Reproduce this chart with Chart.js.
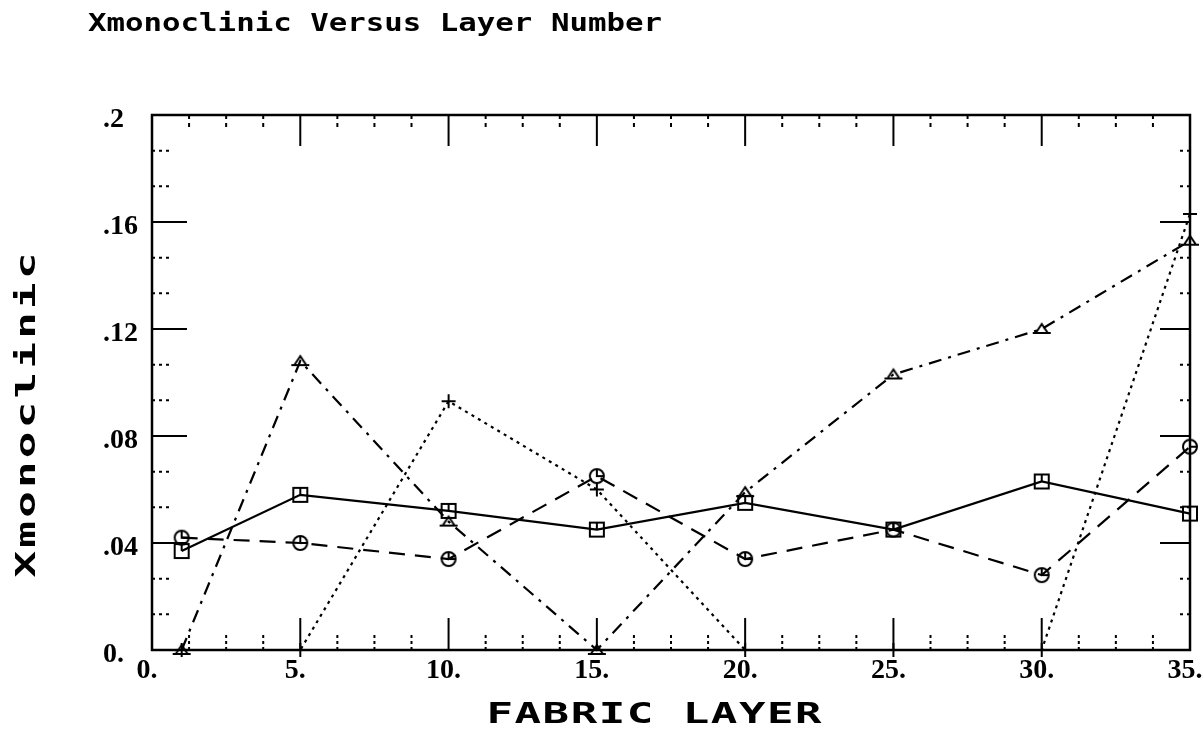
<!DOCTYPE html>
<html>
<head>
<meta charset="utf-8">
<title>Xmonoclinic Versus Layer Number</title>
<script src="https://cdn.jsdelivr.net/npm/chart.js@4.4.1/dist/chart.umd.min.js"></script>
<style>
  html, body { margin: 0; padding: 0; background: #fff; }
  #wrap { width: 1204px; height: 755px; }
</style>
</head>
<body>
<div id="wrap"><canvas id="chart" width="1204" height="755"></canvas></div>
<script>
// fabric layers sampled
const layers = [1, 5, 10, 15, 20, 25, 30, 35];

// Xmonoclinic per layer, one array per curve
const squareSeries   = [0.037, 0.058, 0.052, 0.045, 0.055, 0.045, 0.063, 0.051];
const circleSeries   = [0.042, 0.040, 0.034, 0.065, 0.034, 0.045, 0.028, 0.076];
const triangleSeries = [0.000, 0.108, 0.048, 0.000, 0.059, 0.103, 0.120, 0.153];
const plusSeries     = [0.000, 0.000, 0.093, 0.060, 0.000, 0.000, 0.000, 0.163];

// axis tick labels
const xTickLabels = ['0.', '5.', '10.', '15.', '20.', '25.', '30.', '35.'];
const yTickLabels = ['0.', '.04', '.08', '.12', '.16', '.2'];

const titleText = 'Xmonoclinic Versus Layer Number';
const xTitleText = 'FABRIC LAYER';
const yTitleText = 'Xmonoclinic';

// small offscreen canvases used as point styles
function markerCanvas(draw) {
    const c = document.createElement('canvas');
    c.width = 22;
    c.height = 22;
    const g = c.getContext('2d');
    g.strokeStyle = '#000';
    g.lineWidth = 2;
    g.translate(11, 11);
    draw(g);
    return c;
}

const squareMark = markerCanvas(g => {
    g.strokeRect(-7, -7, 14, 14);
    g.beginPath();
    g.moveTo(0, -7);
    g.lineTo(0, 0);
    g.stroke();
});

const circleMark = markerCanvas(g => {
    g.beginPath();
    g.arc(0, 0, 7, 0, Math.PI * 2);
    g.stroke();
    g.beginPath();
    g.moveTo(0, -7);
    g.lineTo(0, 0);
    g.lineTo(7, 0);
    g.stroke();
});

const triangleMark = markerCanvas(g => {
    g.beginPath();
    g.moveTo(-6, 4);
    g.lineTo(0, -5);
    g.lineTo(6, 4);
    g.closePath();
    g.stroke();
    g.beginPath();
    g.moveTo(-9, 4);
    g.lineTo(9, 4);
    g.stroke();
});

const plusMark = markerCanvas(g => {
    g.beginPath();
    g.moveTo(-7, 0);
    g.lineTo(7, 0);
    g.moveTo(0, -7);
    g.lineTo(0, 7);
    g.stroke();
});

function toPoints(values) {
    return layers.map((x, i) => ({ x: x, y: values[i] }));
}

function series(values, mark, dash) {
    return {
        data: toPoints(values),
        borderColor: '#000',
        borderWidth: 2.2,
        borderDash: dash,
        borderCapStyle: 'butt',
        pointStyle: mark,
        pointRadius: 7,
        pointHoverRadius: 7,
        tension: 0,
        fill: false,
        clip: false
    };
}

// box frame with inward major/minor ticks on all four sides
const frameTicks = {
    id: 'frameTicks',
    afterDatasetsDraw(chart) {
        const { ctx, chartArea: a, scales: { x, y } } = chart;

        function seg(x1, y1, x2, y2) {
            ctx.beginPath();
            ctx.moveTo(x1, y1);
            ctx.lineTo(x2, y2);
            ctx.stroke();
        }

        ctx.save();
        ctx.strokeStyle = '#000';
        ctx.lineWidth = 2.5;
        ctx.strokeRect(a.left, a.top, a.right - a.left, a.bottom - a.top);

        const xMajor = x.ticks.map(t => t.value);
        const yMajor = y.ticks.map(t => t.value);
        const xStep = xMajor[1] - xMajor[0];
        const yStep = yMajor[1] - yMajor[0];

        // major ticks
        ctx.lineWidth = 2;
        xMajor.slice(1, -1).forEach(v => {
            const px = x.getPixelForValue(v);
            seg(px, a.bottom, px, a.bottom - 32);
            seg(px, a.top, px, a.top + 31);
        });
        yMajor.slice(1, -1).forEach(v => {
            const py = y.getPixelForValue(v);
            seg(a.left, py, a.left + 35, py);
            seg(a.right, py, a.right - 30, py);
        });

        // dotted minor ticks
        for (let i = 0; i < xMajor.length - 1; i++) {
            for (let k = 1; k < 4; k++) {
                const px = x.getPixelForValue(xMajor[i] + k * xStep / 4);
                ctx.setLineDash([3, 3]);
                seg(px, a.bottom, px, a.bottom - 16);
                ctx.setLineDash([4, 4]);
                seg(px, a.top, px, a.top + 13);
            }
        }
        ctx.setLineDash([3, 4]);
        for (let i = 0; i < yMajor.length - 1; i++) {
            for (let k = 1; k < 3; k++) {
                const py = y.getPixelForValue(yMajor[i] + k * yStep / 3);
                seg(a.left, py, a.left + 18, py);
                seg(a.right, py, a.right - 12, py);
            }
        }
        ctx.restore();
    }
};

// titles drawn in a wide monospace face, stretched to their span
function drawStretched(ctx, text, cx, baseline, width, font, spacing, angle) {
    ctx.save();
    ctx.font = font;
    ctx.letterSpacing = spacing + 'px';
    const natural = ctx.measureText(text).width - spacing;
    ctx.translate(cx, baseline);
    ctx.rotate(angle);
    ctx.scale(width / natural, 1);
    ctx.textAlign = 'left';
    ctx.textBaseline = 'alphabetic';
    ctx.fillStyle = '#000';
    ctx.fillText(text, -natural / 2, 0);
    ctx.restore();
}

const titles = {
    id: 'titles',
    afterDraw(chart) {
        const ctx = chart.ctx;
        drawStretched(ctx, titleText, 375, 31, 574, 'bold 24px "DejaVu Sans Mono"', 0, 0);
        drawStretched(ctx, xTitleText, 654, 723, 335, 'bold 29px "DejaVu Sans Mono"', 1, 0);
        drawStretched(ctx, yTitleText, 35, 415, 325, 'bold 27px "DejaVu Sans Mono"', 2, -Math.PI / 2);
    }
};

const tickFont = { family: '"Liberation Serif", serif', size: 28, weight: 'bold' };

new Chart(document.getElementById('chart'), {
    type: 'line',
    data: {
        datasets: [
            series(squareSeries, squareMark, []),
            series(circleSeries, circleMark, [16, 10]),
            series(triangleSeries, triangleMark, [13, 7, 3, 7]),
            series(plusSeries, plusMark, [3, 4.5])
        ]
    },
    options: {
        responsive: false,
        devicePixelRatio: 1,
        animation: false,
        layout: { padding: { left: 103, right: 14, top: 115, bottom: 0 } },
        plugins: {
            legend: { display: false },
            title: { display: false },
            tooltip: { enabled: false }
        },
        scales: {
            x: {
                type: 'linear',
                min: 0,
                max: 35,
                grid: { display: false, drawTicks: false },
                border: { display: false },
                ticks: {
                    stepSize: 5,
                    autoSkip: false,
                    maxRotation: 0,
                    padding: 4,
                    labelOffset: -5,
                    color: '#000',
                    font: tickFont,
                    callback: (value, index) => xTickLabels[index]
                },
                afterFit: scale => {
                    scale.height = 105;
                    scale.paddingLeft = 0;
                    scale.paddingRight = 0;
                }
            },
            y: {
                min: 0,
                max: 0.2,
                grid: { display: false, drawTicks: false },
                border: { display: false },
                ticks: {
                    stepSize: 0.04,
                    crossAlign: 'far',
                    labelOffset: 5,
                    color: '#000',
                    font: tickFont,
                    callback: (value, index) => yTickLabels[index]
                },
                afterFit: scale => {
                    scale.width = 49;
                    scale.paddingTop = 0;
                    scale.paddingBottom = 0;
                }
            }
        }
    },
    plugins: [frameTicks, titles]
});
</script>
</body>
</html>
